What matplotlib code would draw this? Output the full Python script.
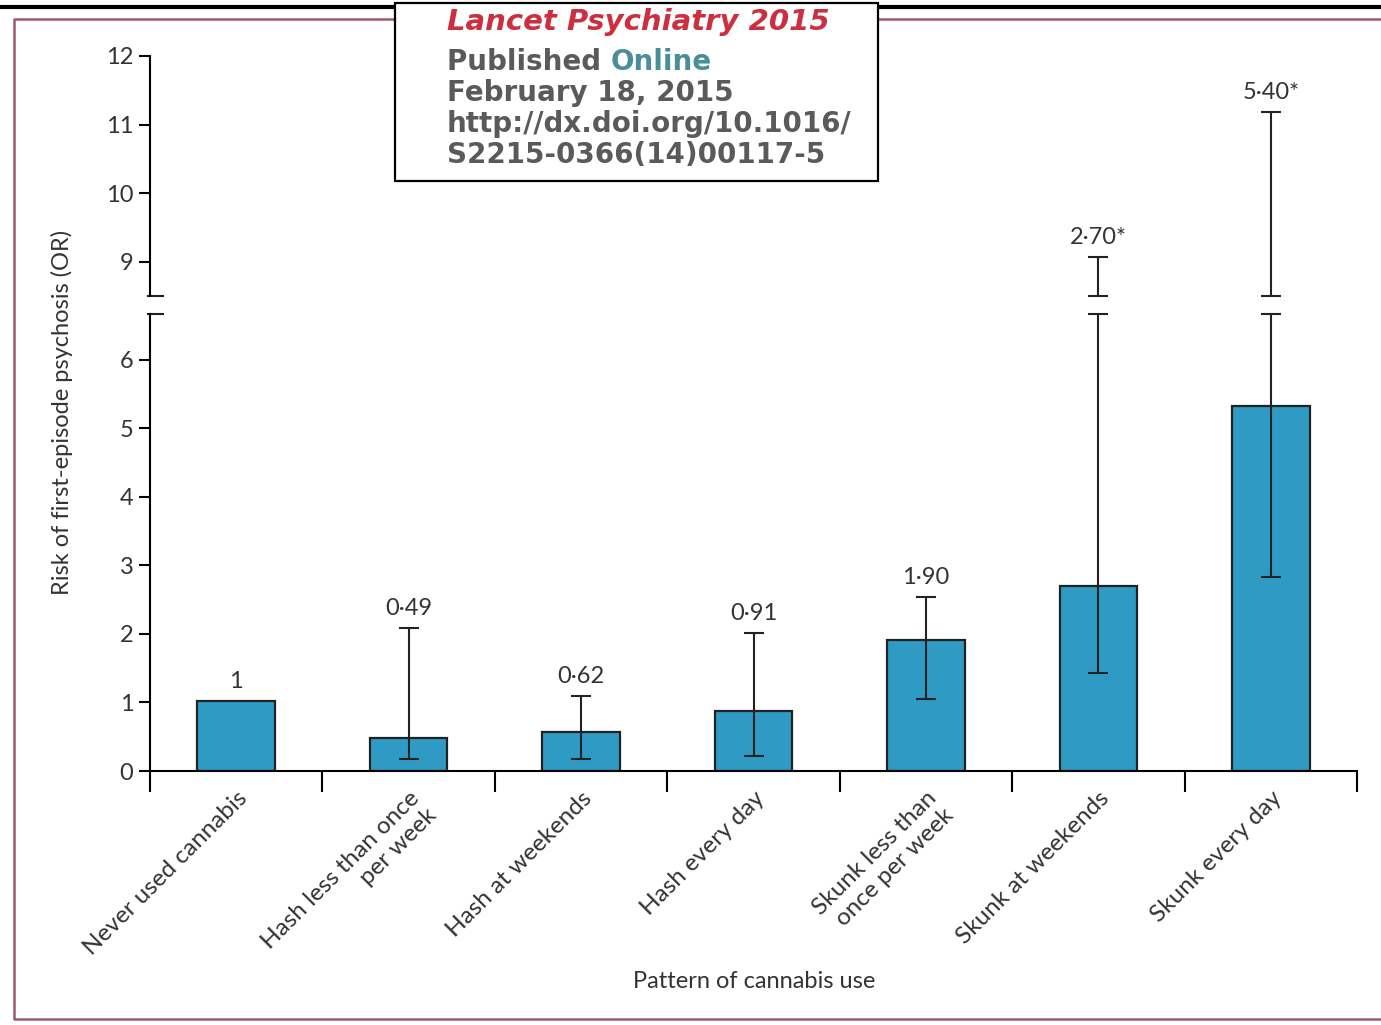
#!/usr/bin/python
# -*- coding: utf-8 -*-

import numpy as np
import matplotlib
matplotlib.use("Agg")
import matplotlib.pyplot as plt
from matplotlib.patches import Rectangle

categories = ["Never used cannabis", "Hash less than once\nper week", "Hash at weekends",
              "Hash every day", "Skunk less than\nonce per week", "Skunk at weekends",
              "Skunk every day"]
odds_ratio = [1.02, 0.48, 0.57, 0.87, 1.91, 2.70, 5.32]
ci_low = [np.nan, 0.17, 0.17, 0.22, 1.05, 1.43, 2.83]
ci_high = [np.nan, 2.09, 1.09, 2.01, 2.54, 9.07, 11.19]
value_labels = ["1", "0·49", "0·62", "0·91", "1·90", "2·70*", "5·40*"]

BAR = "#2f9bc4"
INK = "#222222"
LOW_TOP = 6.67
HIGH_BOTTOM = 8.5

plt.rcParams["font.family"] = ["Lato", "DejaVu Sans"]

fig = plt.figure(figsize=(13.81, 10.25), dpi=100)
W, H = 1381.0, 1025.0

def px_rect(x0, y0, x1, y1):
    return [x0 / W, 1 - y1 / H, (x1 - x0) / W, (y1 - y0) / H]

ax_lo = fig.add_axes(px_rect(150, 314, 1357, 771))
ax_hi = fig.add_axes(px_rect(150, 56, 1357, 296), sharex=ax_lo)

x = np.arange(len(categories))
lo = np.array(ci_low)
hi = np.array(ci_high)
vals = np.array(odds_ratio)

for ax in (ax_lo, ax_hi):
    ax.bar(x, vals, width=0.45, color=BAR, edgecolor=INK, linewidth=1.6, zorder=2)
    for s in ("top", "right"):
        ax.spines[s].set_visible(False)
    ax.spines["left"].set_linewidth(1.5)
    ax.spines["bottom"].set_linewidth(1.5)
    ax.tick_params(axis="y", direction="out", length=8, width=1.5, labelsize=17,
                   labelcolor="#333333", pad=4)
    ax.set_facecolor("none")

# error bars, cut at the axis break
m = ~np.isnan(lo)
lo_hi = np.minimum(hi[m], LOW_TOP)
ax_lo.errorbar(x[m], vals[m], yerr=[vals[m] - lo[m], lo_hi - vals[m]], fmt="none",
               ecolor=INK, elinewidth=1.5, capsize=7.5, capthick=1.5, zorder=3, clip_on=False)
up = m & (hi > HIGH_BOTTOM)
hb = np.maximum(lo[up], HIGH_BOTTOM)
ax_hi.errorbar(x[up], hb, yerr=[np.zeros(up.sum()), hi[up] - hb], fmt="none",
               ecolor=INK, elinewidth=1.5, capsize=7.5, capthick=1.5, zorder=3, clip_on=False)

ax_lo.set_ylim(0, LOW_TOP)
ax_lo.set_yticks(range(0, 7))
ax_hi.set_ylim(HIGH_BOTTOM, 12)
ax_hi.set_yticks([9, 10, 11, 12])
ax_hi.spines["bottom"].set_visible(False)
ax_hi.tick_params(axis="x", which="both", bottom=False, labelbottom=False)

ax_lo.set_xlim(-0.5, len(categories) - 0.5)
ax_lo.set_xticks(np.arange(len(categories) + 1) - 0.5)
ax_lo.set_xticklabels([])
ax_lo.tick_params(axis="x", which="major", direction="out", length=15, width=1.5)
ax_lo.set_xticks(x, minor=True)
ax_lo.set_xticklabels(categories, minor=True, rotation=45, ha="right", va="top",
                      rotation_mode="anchor", fontsize=17.5, color="#333333")
ax_lo.tick_params(axis="x", which="minor", length=0, pad=12)

# break marks on the y axis
for ax, yy in ((ax_lo, 1.0), (ax_hi, 0.0)):
    ax.plot([-0.002, 0.011], [yy, yy], transform=ax.transAxes, color=INK, lw=1.5,
            clip_on=False)

# value labels
for i, lab in enumerate(value_labels):
    top = vals[i] if np.isnan(hi[i]) else hi[i]
    ax = ax_hi if top > HIGH_BOTTOM else ax_lo
    ax.annotate(lab, (x[i], top), xytext=(0, 9), textcoords="offset pixels",
                ha="center", va="bottom", fontsize=17, color="#333333")

fig.text(62 / W, 1 - 412 / H, "Risk of first-episode psychosis (OR)", rotation=90,
         ha="center", va="center", fontsize=17, color="#333333")
fig.text(754 / W, 1 - 982 / H, "Pattern of cannabis use", ha="center", va="center",
         fontsize=17, color="#333333")

# page frame (open on the right) and the journal box on top
ov = fig.add_axes([0, 0, 1, 1], zorder=10)
ov.set_xlim(0, W)
ov.set_ylim(H, 0)
ov.axis("off")
ov.patch.set_visible(False)
ov.plot([W, 14, 14, W], [19, 19, 1019, 1019], color="#9a5a6a", lw=1.8)
ov.plot([0, W], [6.5, 6.5], color="black", lw=3.0, solid_capstyle="butt")
box = Rectangle((395, 3), 483, 178, facecolor="white", edgecolor="black", lw=1.6, zorder=5)
ov.add_patch(box)
box_font = dict(family="DejaVu Sans", fontsize=20, weight="bold", zorder=6, va="center")
ov.text(447, 22, "Lancet Psychiatry 2015", color="#cc2f3f", style="italic",
        **{**box_font, "fontsize": 21})
t = ov.text(447, 62, "Published ", color="#5a5a5a", **box_font)
ov.annotate("Online", xy=(1, 0.5), xycoords=t, va="center", color="#4a8e9c",
            family="DejaVu Sans", fontsize=20, weight="bold", zorder=6)
ov.text(447, 93, "February 18, 2015", color="#5a5a5a", **box_font)
url = ov.text(447, 124, "http://dx.doi.org/10.1016/", color="#5a5a5a", **box_font)
url.set_clip_path(box)
ov.text(447, 155, "S2215-0366(14)00117-5", color="#5a5a5a", **box_font)

fig.savefig("out.png", dpi=100)
